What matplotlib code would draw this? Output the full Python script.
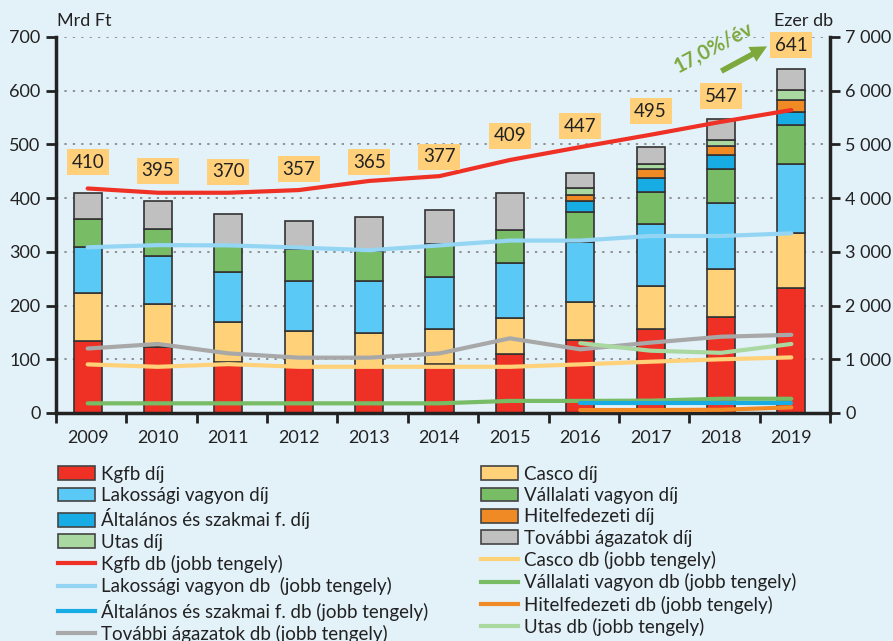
import matplotlib.pyplot as plt
import matplotlib.ticker as mticker
from matplotlib.patches import Patch
from matplotlib.lines import Line2D
import numpy as np

# Years and totals
years = ['2009', '2010', '2011', '2012', '2013', '2014', '2015', '2016', '2017', '2018', '2019']
totals = [410, 395, 370, 357, 365, 377, 409, 447, 495, 547, 641]

# Premiums (Mrd Ft), stacked bars
kgfb_dij = [134, 122, 95, 86, 86, 92, 110, 135, 156, 178, 232]
casco_dij = [90, 81, 74, 66, 62, 64, 67, 72, 81, 90, 103]
lakossagi_dij = [85, 89, 93, 94, 98, 97, 102, 111, 115, 123, 128]
vallalati_dij = [52, 51, 51, 59, 55, 61, 61, 56, 60, 63, 73]
altalanos_dij = [0, 0, 0, 0, 0, 0, 0, 21, 25, 26, 25]
hitel_dij = [0, 0, 0, 0, 0, 0, 0, 11, 17, 17, 22]
utas_dij = [0, 0, 0, 0, 0, 0, 0, 13, 9, 12, 18]
tovabbi_dij = [49, 52, 57, 52, 64, 63, 69, 28, 32, 38, 40]

# Contract counts (ezer db), right axis
kgfb_db = [4180, 4100, 4100, 4150, 4320, 4410, 4710, 4950, 5180, 5420, 5640]
casco_db = [905, 860, 910, 860, 860, 860, 860, 905, 955, 1000, 1035]
lakossagi_db = [3085, 3125, 3120, 3080, 3030, 3120, 3210, 3210, 3295, 3295, 3345]
vallalati_db = [180, 180, 180, 180, 180, 180, 225, 225, 230, 265, 265]
tovabbi_db = [1200, 1285, 1110, 1030, 1030, 1110, 1390, 1185, 1310, 1420, 1455]
altalanos_db = [None] * 7 + [190, 190, 190, 190]
hitel_db = [None] * 7 + [55, 55, 60, 105]
utas_db = [None] * 7 + [1300, 1160, 1120, 1285]

# label heights above bars (left axis units)
label_y = [467, 451, 449, 454, 467, 477, 516, 534, 562, 590, 685]

c_red = '#ee3124'
c_casco = '#ffd27a'
c_lak = '#5bc9f5'
c_vall = '#78bc65'
c_alt = '#17ade4'
c_hitel = '#f08a24'
c_utas = '#a9d8a0'
c_tov = '#c0c0c0'
c_lak_line = '#93d5f3'
c_tov_line = '#a8a8a8'
bg = '#e3f1f9'

plt.rcParams['font.family'] = ['Lato', 'DejaVu Sans']

fig = plt.figure(figsize=(8.93, 6.41), dpi=100, facecolor=bg)
ax = fig.add_axes([0.0627, 0.3557, 0.8668, 0.5866])
ax.set_facecolor(bg)
ax2 = ax.twinx()

x = np.arange(len(years))
w = 0.4
stack = [
    (kgfb_dij, c_red), (casco_dij, c_casco), (lakossagi_dij, c_lak),
    (vallalati_dij, c_vall), (altalanos_dij, c_alt), (hitel_dij, c_hitel),
    (utas_dij, c_utas), (tovabbi_dij, c_tov),
]
bottom = np.zeros(len(years))
for vals, col in stack:
    v = np.array(vals, dtype=float)
    mask = v > 0
    ax.bar(x[mask], v[mask], w, bottom=bottom[mask], color=col,
           edgecolor='#333333', linewidth=1.2, zorder=2)
    bottom += v

ax.set_xlim(-0.45, 10.55)
ax.set_ylim(0, 700)
ax2.set_ylim(0, 7000)
ax.set_yticks(range(0, 701, 100))
ax2.set_yticks(range(0, 7001, 1000))
ax2.yaxis.set_major_formatter(mticker.FuncFormatter(lambda v, p: f'{int(v):,}'.replace(',', ' ')))
ax.set_axisbelow(True)
ax.yaxis.grid(True, linestyle=(0, (1.5, 4)), color='#777777', linewidth=1.1)

ax.set_xticks(x)
ax.set_xticklabels(years)
ax.set_xticks(np.arange(-0.45, 10.6, 1.0), minor=True)
ax.tick_params(axis='x', which='major', length=0, pad=12, labelsize=13, colors='#222222')
ax.tick_params(axis='x', which='minor', length=7, width=2, direction='out', color='#222222')
ax.tick_params(axis='y', length=7, width=2, direction='out', labelsize=13, colors='#222222', pad=4)
ax2.tick_params(axis='y', length=7, width=2, direction='out', labelsize=13, colors='#222222', pad=4)

for s in ['top', 'right']:
    ax.spines[s].set_visible(False)
for s in ['top', 'left', 'bottom']:
    ax2.spines[s].set_visible(False)
ax.spines['left'].set_linewidth(2.5)
ax.spines['bottom'].set_linewidth(2.5)
ax2.spines['right'].set_linewidth(2.5)
for sp in [ax.spines['left'], ax.spines['bottom'], ax2.spines['right']]:
    sp.set_color('#222222')

lines = [
    (kgfb_db, c_red), (casco_db, c_casco), (lakossagi_db, c_lak_line),
    (vallalati_db, c_vall), (altalanos_db, c_alt), (hitel_db, c_hitel),
    (tovabbi_db, c_tov_line), (utas_db, c_utas),
]
for vals, col in lines:
    v = np.array([np.nan if a is None else a for a in vals], dtype=float)
    ax2.plot(x, v, color=col, linewidth=3, solid_capstyle='round')

# total labels
for i, t in enumerate(totals):
    ax2.text(x[i], label_y[i], str(t), transform=ax.transData, ha='center', va='center',
             fontsize=13.5, color='#222222', zorder=10,
             bbox=dict(boxstyle='square,pad=0.25', facecolor='#ffcf7a', edgecolor='none'))

# growth arrow
ax2.annotate('', xy=(9.69, 685), xytext=(8.97, 634), xycoords=ax.transData,
             textcoords=ax.transData,
             arrowprops=dict(arrowstyle='simple,head_width=1.2,head_length=1.2,tail_width=0.4',
                             color='#7ca83c', lw=0), zorder=10)
ax2.text(8.90, 680, '17,0%/év', transform=ax.transData, rotation=28, ha='center', va='center',
         fontsize=14.5, fontweight='bold', color='#7ca83c', zorder=10)

fig.text(0.064, 0.968, 'Mrd Ft', fontsize=13, color='#222222', ha='left', va='center')
fig.text(0.933, 0.968, 'Ezer db', fontsize=13, color='#222222', ha='right', va='center')

# legend
def pt(col):
    return Patch(facecolor=col, edgecolor='#444444', linewidth=1.2)

def ln(col):
    return Line2D([0], [0], color=col, linewidth=3)

handles = [
    pt(c_red), pt(c_lak), pt(c_alt), pt(c_utas),
    ln(c_red), ln(c_lak_line), ln(c_alt), ln(c_tov_line),
    pt(c_casco), pt(c_vall), pt(c_hitel), pt(c_tov),
    ln(c_casco), ln(c_vall), ln(c_hitel), ln(c_utas),
]
labels = [
    'Kgfb díj', 'Lakossági vagyon díj', 'Általános és szakmai f. díj', 'Utas díj',
    'Kgfb db (jobb tengely)', 'Lakossági vagyon db  (jobb tengely)',
    'Általános és szakmai f. db (jobb tengely)', 'További ágazatok db (jobb tengely)',
    'Casco díj', 'Vállalati vagyon díj', 'Hitelfedezeti díj', 'További ágazatok díj',
    'Casco db (jobb tengely)', 'Vállalati vagyon db (jobb tengely)',
    'Hitelfedezeti db (jobb tengely)', 'Utas db (jobb tengely)',
]
leg = fig.legend(handles, labels, ncol=2, loc='upper left', bbox_to_anchor=(0.048, 0.297),
                 frameon=False, handlelength=2.0, handleheight=0.75,
                 handletextpad=0.3, labelspacing=0.23, columnspacing=2.8, borderpad=0.3,
                 prop={'family': ['Lato', 'DejaVu Sans'], 'size': 13.5})
for t in leg.get_texts():
    t.set_color('#222222')

fig.savefig('out.png', dpi=100, facecolor=bg)
